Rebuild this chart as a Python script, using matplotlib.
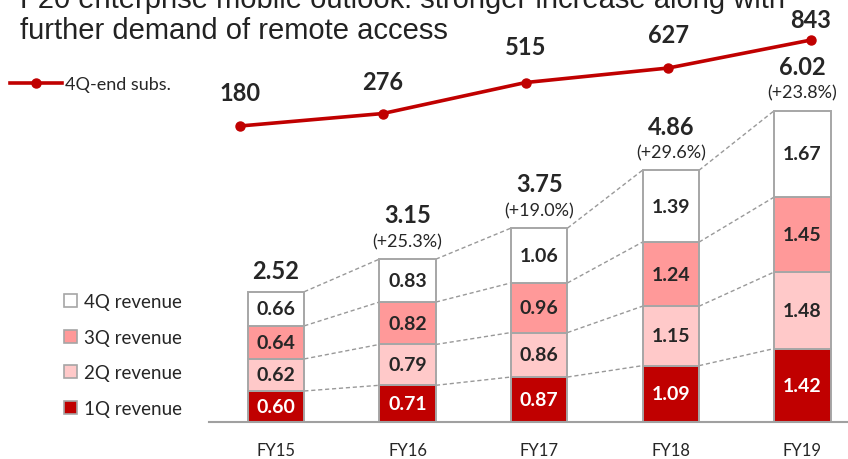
import matplotlib
matplotlib.use("Agg")
import matplotlib.pyplot as plt
import matplotlib.patches as mpatches
from matplotlib.lines import Line2D
import numpy as np

# | ================= Data ================= |

YEARS = ["FY15", "FY16", "FY17", "FY18", "FY19"]
Q1 = [0.60, 0.71, 0.87, 1.09, 1.42]
Q2 = [0.62, 0.79, 0.86, 1.15, 1.48]
Q3 = [0.64, 0.82, 0.96, 1.24, 1.45]
Q4 = [0.66, 0.83, 1.06, 1.39, 1.67]
TOTALS = [2.52, 3.15, 3.75, 4.86, 6.02]
GROWTH = ["", "(+25.3%)", "(+19.0%)", "(+29.6%)", "(+23.8%)"]
SUBS = [180, 276, 515, 627, 843]

SERIES = [("1Q revenue", Q1), ("2Q revenue", Q2), ("3Q revenue", Q3), ("4Q revenue", Q4)]

TITLE_1 = "F20 enterprise mobile outlook: stronger increase along with"
TITLE_2 = "further demand of remote access"

# | ================= Style ================= |

W, H = 848, 460
RED = "#C00000"
FILLS = ["#C00000", "#FFC9C9", "#FF9999", "#FFFFFF"]
EDGE = "#A6A6A6"
TEXT = "#262626"
FONT = "Lato"
BAR_W = 0.43

fig = plt.figure(figsize=(W / 100, H / 100), dpi=100)
fig.patch.set_facecolor("white")

# bar axes: baseline at 423 px from top, 51.7 px per unit, bars every 131.6 px
base_px, unit_px, step_px, x0_px = 423, 51.7, 131.6, 276
ax = fig.add_axes([0, (H - base_px) / H, 1, base_px / H])
ax.set_xlim(-x0_px / step_px, (W - x0_px) / step_px)
ax.set_ylim(0, base_px / unit_px)
ax.axis("off")

x = np.arange(len(YEARS))
bottom = np.zeros(len(YEARS))
tops = []
for (name, vals), fc in zip(SERIES, FILLS):
    vals = np.array(vals)
    ax.bar(x, vals, BAR_W, bottom=bottom, color=fc, edgecolor=EDGE,
           linewidth=1.4, zorder=3)
    tc = "white" if fc == RED else TEXT
    for xi, b, v in zip(x, bottom, vals):
        ax.text(xi, b + v / 2, f"{v:.2f}", ha="center", va="center",
                fontsize=14, fontweight="bold", color=tc, family=FONT, zorder=4)
    bottom = bottom + vals
    tops.append(bottom.copy())

# dashed connectors between segment tops
for lvl in tops:
    for i in range(len(YEARS) - 1):
        ax.plot([x[i] + BAR_W / 2, x[i + 1] - BAR_W / 2], [lvl[i], lvl[i + 1]],
                color="#999999", linestyle=(0, (3, 2)), linewidth=1.0, zorder=2)

# baseline
ax.plot([(209 - x0_px) / step_px, ax.get_xlim()[1]], [0, 0],
        color="#A0A0A0", linewidth=1.5, zorder=5, clip_on=False)

# totals & growth
for xi, t, g in zip(x, TOTALS, GROWTH):
    if g:
        ax.annotate(g, (xi, t), xytext=(0, 13), textcoords="offset points",
                    ha="center", va="center", fontsize=13, color=TEXT, family=FONT)
        off = 32
    else:
        off = 15
    ax.annotate(f"{t:.2f}", (xi, t), xytext=(0, off), textcoords="offset points",
                ha="center", va="center", fontsize=17, fontweight="bold",
                color=TEXT, family=FONT)

# year labels
for xi, yr in zip(x, YEARS):
    ax.annotate(yr, (xi, 0), xytext=(0, -20), textcoords="offset points",
                ha="center", va="center", fontsize=12, color=TEXT, family=FONT,
                annotation_clip=False)

# bar legend
handles = [mpatches.Patch(facecolor=fc, edgecolor=EDGE, linewidth=1.2, label=n)
           for (n, _), fc in zip(SERIES, FILLS)][::-1]
leg = fig.legend(handles=handles, loc="center left", bbox_to_anchor=(64 / W, 1 - 356 / H),
                 frameon=False, fontsize=13.5, handlelength=0.7, handleheight=0.7,
                 handletextpad=0.35, labelspacing=1.0, borderaxespad=0, borderpad=0)
for t in leg.get_texts():
    t.set_color(TEXT)
    t.set_family(FONT)

# | ================= Subscriber line ================= |

lx0, lstep = 240, 142.75
ax2 = fig.add_axes([0, 0, 1, 1], facecolor="none")
ax2.set_xlim(-lx0 / lstep, (W - lx0) / lstep)
py = 0.1297  # px per subscriber unit
ax2.set_ylim(180 - (H - 127) / py, 843 + 41 / py)
ax2.axis("off")
ax2.plot(x, SUBS, color=RED, linewidth=2.6, marker="o", markersize=6.5, zorder=5)
label_off = [24, 23, 26, 24, 15]
for xi, s, o in zip(x, SUBS, label_off):
    ax2.annotate(f"{s}", (xi, s), xytext=(0, o), textcoords="offset points",
                 ha="center", va="center", fontsize=17, fontweight="bold",
                 color=TEXT, family=FONT)

lh = Line2D([0], [0], color=RED, linewidth=2.6, marker="o", markersize=6.5,
            label="4Q-end subs.")
leg2 = fig.legend(handles=[lh], loc="center left", bbox_to_anchor=(10 / W, 1 - 85 / H),
                  frameon=False, fontsize=13, handlelength=2.9, handletextpad=0.15,
                  borderaxespad=0, borderpad=0)
for t in leg2.get_texts():
    t.set_color(TEXT)
    t.set_family(FONT)

# | ================= Title ================= |

for txt, base in [(TITLE_1, 8), (TITLE_2, 39)]:
    fig.text(20 / W, 1 - base / H, txt, ha="left", va="baseline", fontsize=21,
             color="#222222", family="Liberation Sans")

fig.savefig("out.png", dpi=100, facecolor="white")
